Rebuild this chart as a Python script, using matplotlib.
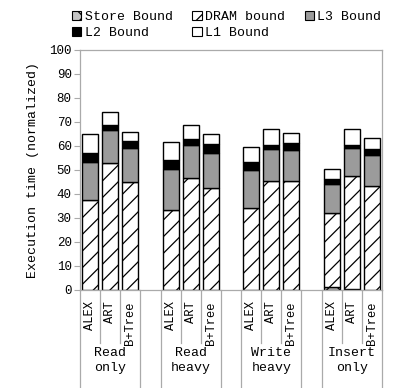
import numpy as np
import matplotlib
matplotlib.use('Agg')
import matplotlib.pyplot as plt
import matplotlib.transforms as mtransforms
from matplotlib.patches import Patch

plt.rcParams['font.family'] = ['Liberation Mono', 'DejaVu Sans Mono']
plt.rcParams['hatch.linewidth'] = 0.9

# workloads and indexes
groups = ['Read\nonly', 'Read\nheavy', 'Write\nheavy', 'Insert\nonly']
indexes = ['ALEX', 'ART', 'B+Tree']

# breakdown per bar (normalized execution time), bars ordered group by group
store_bound = [0.0, 0.0, 0.0, 0.0, 0.0, 0.0, 0.0, 0.0, 0.0, 1.3, 0.4, 0.0]
dram_bound = [37.5, 53.0, 45.1, 33.3, 46.8, 42.4, 34.0, 45.4, 45.4, 30.7, 47.1, 43.3]
l3_bound = [15.7, 13.8, 14.2, 17.1, 13.6, 14.8, 16.1, 13.2, 12.8, 12.0, 11.7, 12.9]
l2_bound = [3.8, 2.1, 2.8, 3.8, 2.5, 3.6, 3.2, 1.8, 3.2, 2.3, 1.2, 2.4]
l1_bound = [7.9, 5.4, 3.6, 7.3, 5.9, 4.1, 6.2, 6.6, 3.9, 4.0, 6.6, 4.6]

grey = '#aaaaaa'

fig = plt.figure(figsize=(3.95, 3.88), dpi=100)
ax = fig.add_axes([80 / 395, 1 - 290 / 388, 302 / 395, 240 / 388])

# one empty slot between groups
pos = np.array([g * 4 + i for g in range(len(groups)) for i in range(len(indexes))])

series = [
    ('Store Bound', store_bound, dict(color='#c4c4c4', hatch='xx')),
    ('DRAM bound', dram_bound, dict(color='white', hatch='//')),
    ('L3 Bound', l3_bound, dict(color='#9b9b9b', hatch=None)),
    ('L2 Bound', l2_bound, dict(color='black', hatch=None)),
    ('L1 Bound', l1_bound, dict(color='white', hatch=None)),
]

bottom = np.zeros(len(pos))
handles = {}
for name, vals, st in series:
    vals = np.array(vals)
    ax.bar(pos, vals, 0.8, bottom=bottom, color=st['color'], hatch=st['hatch'],
           edgecolor='black', linewidth=1.0)
    handles[name] = Patch(facecolor=st['color'], hatch=st['hatch'],
                          edgecolor='black', linewidth=0.8)
    bottom += vals

ax.set_xlim(-0.5, 14.5)
ax.set_ylim(0, 100)
ax.set_yticks(np.arange(0, 101, 10))
ax.set_ylabel('Execution time (normalized)', fontsize=9.5, labelpad=7)
ax.tick_params(axis='y', labelsize=9, length=4, color=grey, pad=2)

ax.set_xticks(pos)
ax.set_xticklabels(indexes * len(groups), rotation=90, fontsize=8.7)
ax.tick_params(axis='x', length=0, pad=8)

for s in ax.spines.values():
    s.set_color(grey)
    s.set_linewidth(0.9)

# separator lines under the axis
trans = mtransforms.blended_transform_factory(ax.transData, ax.transAxes)
for g in range(len(groups)):
    left = g * 4 - 0.5
    right = g * 4 + 2.5
    for x in (left, right):
        ax.plot([x, x], [0, -0.405], color=grey, lw=0.9, transform=trans, clip_on=False)
    for x in (g * 4 + 0.5, g * 4 + 1.5):
        ax.plot([x, x], [0, -0.22], color=grey, lw=0.9, transform=trans, clip_on=False)
    ax.text(g * 4 + 1, -0.295, groups[g], transform=trans, ha='center', va='center',
            fontsize=9.5, linespacing=1.3)

# legend laid out row by row
order = ['Store Bound', 'L2 Bound', 'DRAM bound', 'L1 Bound', 'L3 Bound']
fig.legend([handles[k] for k in order], order, ncol=3, loc='upper left',
           bbox_to_anchor=(72 / 395, 1 - 11 / 388), frameon=False, fontsize=9.5,
           handlelength=0.7, handleheight=0.7, handletextpad=0.25,
           columnspacing=1.5, labelspacing=0.3, borderpad=0, borderaxespad=0)

fig.savefig('out.png', dpi=100)
